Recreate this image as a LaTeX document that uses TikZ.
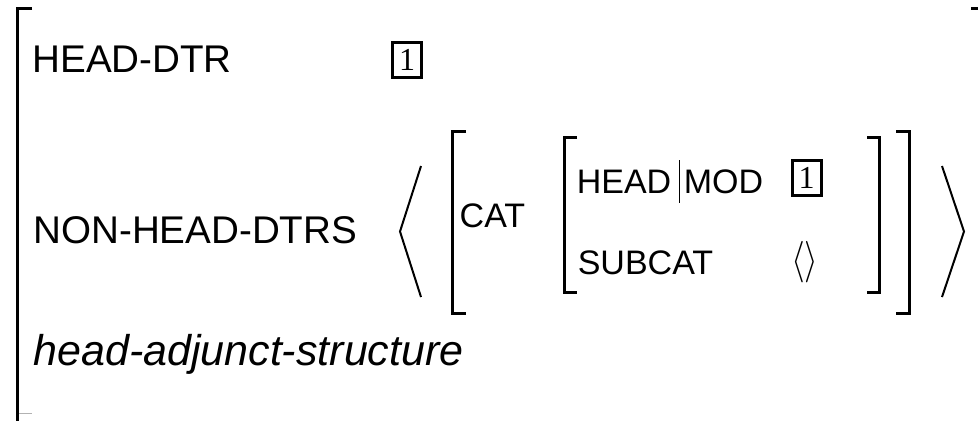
\documentclass[tikz,border=0pt]{standalone}
\usepackage{fontspec}
\newfontfamily\avmfont{Liberation Sans}
\newfontfamily\tagfont{Liberation Serif}
\tikzset{
  feat/.style={anchor=base west,inner sep=0pt,font=\avmfont\fontsize{19.3}{23}\selectfont},
  subfeat/.style={feat,font=\avmfont\fontsize{17}{20}\selectfont},
  sortlbl/.style={feat,font=\avmfont\itshape\fontsize{21.5}{25}\selectfont},
  tagbox/.style={draw,line width=1.5pt,inner sep=0pt,minimum width=14.5pt,minimum height=17.5pt,font=\tagfont\fontsize{16}{19}\selectfont},
  brk/.style={line width=1.5pt},
  angl/.style={line width=1pt},
  pathbar/.style={line width=0.5pt}
}

\begin{document}
\begin{tikzpicture}[x=0.5pt,y=-0.5pt]
  \useasboundingbox (0,0) rectangle (978,420);

  % outer matrix
  \draw[brk] (32,8.5) -- (17.5,8.5) -- (17.5,421);
  \draw[line width=0.5pt,black!30] (19,413.5) -- (32,413.5);
  \draw[brk] (971,8.5) -- (979.5,8.5) -- (979.5,420);

  \node[feat] (hdtr) at (32,72) {HEAD-DTR};
  \node[tagbox] (tagA) at (407,59.5) {1};

  \node[feat] (nhdtrs) at (33,243) {NON-HEAD-DTRS};

  % list brackets
  \draw[angl] (421,166) -- (400,231.5) -- (421,297);
  \draw[angl] (942,166) -- (964,231.5) -- (942,297);

  % the adjunct's value
  \draw[brk] (466,131) -- (452.5,131) -- (452.5,313) -- (466,313);
  \draw[brk] (896,131) -- (909.5,131) -- (909.5,313) -- (896,313);
  \node[subfeat] (cat) at (459.3,227) {CAT};

  \draw[brk] (577,137.5) -- (564.5,137.5) -- (564.5,292) -- (577,292);
  \draw[brk] (867,137.5) -- (879.5,137.5) -- (879.5,292) -- (867,292);
  \node[subfeat] (head) at (576.4,193) {HEAD};
  \node[subfeat] (mod) at (683.5,193) {MOD};
  \draw[pathbar] (679,160) -- (679,203);
  \node[tagbox] (tagB) at (806.5,177.5) {1};

  \node[subfeat] (subcat) at (577.4,274) {SUBCAT};
  \node[inner sep=0pt,font=\fontsize{20}{24}\selectfont] (elist) at (805,262.5)
    {\scalebox{0.85}[1]{$\langle\rangle$}};

  \node[sortlbl] (sort) at (33,365) {head-adjunct-structure};
\end{tikzpicture}
\end{document}
